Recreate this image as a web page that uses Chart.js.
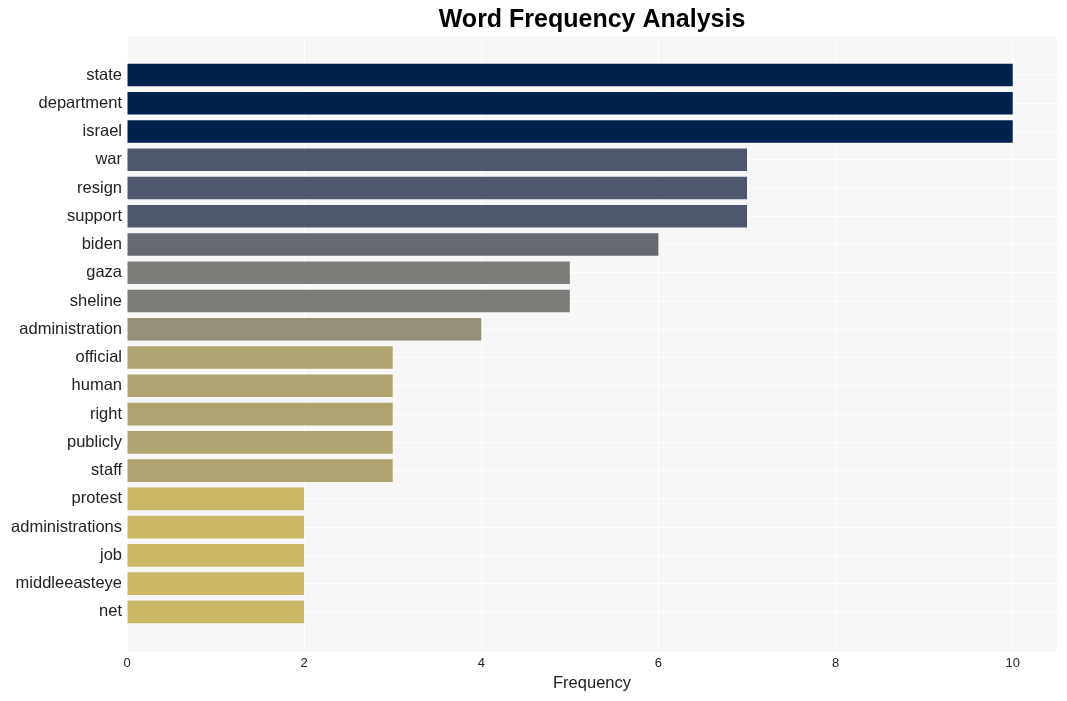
<!DOCTYPE html>
<html>
<head>
<meta charset="utf-8">
<script src="https://cdn.jsdelivr.net/npm/chart.js@4/dist/chart.umd.min.js"></script>
<style>
  html, body { margin: 0; padding: 0; background: #fff; }
  #wrap { width: 1067px; height: 701px; }
</style>
</head>
<body>
<div id="wrap"><canvas id="myChart" width="1067" height="701"></canvas></div>
<script>
// data
const words = ['state', 'department', 'israel', 'war', 'resign', 'support', 'biden', 'gaza', 'sheline',
  'administration', 'official', 'human', 'right', 'publicly', 'staff', 'protest', 'administrations',
  'job', 'middleeasteye', 'net'];
const counts = [10, 10, 10, 7, 7, 7, 6, 5, 5, 4, 3, 3, 3, 3, 3, 2, 2, 2, 2, 2];
const xTicks = [0, 2, 4, 6, 8, 10];

// colour per frequency (cividis-like)
const colorFor = {10: '#00224e', 7: '#4f576c', 6: '#676970', 5: '#7d7c78', 4: '#958f78', 3: '#afa370', 2: '#c9b866'};

const font = "'Liberation Sans', Arial, sans-serif";

// plot background + title centred over the plot
const plotBg = {
  id: 'plotBg',
  beforeDraw(chart) {
    const {ctx, chartArea: a} = chart;
    ctx.save();
    ctx.fillStyle = '#f7f7f7';
    ctx.fillRect(a.left, a.top, a.right - a.left, a.bottom - a.top);
    ctx.restore();
  },
  afterDraw(chart) {
    const {ctx, chartArea: a} = chart;
    ctx.save();
    ctx.font = "bold 25px " + font;
    ctx.fillStyle = '#000';
    ctx.textAlign = 'center';
    ctx.textBaseline = 'middle';
    ctx.fillText('Word Frequency Analysis', (a.left + a.right) / 2, 20);
    ctx.restore();
  }
};

const ctx = document.getElementById('myChart').getContext('2d');
new Chart(ctx, {
  type: 'bar',
  data: {
    datasets: [{
      data: counts.map((c, i) => ({x: c, y: i})),
      backgroundColor: counts.map(c => colorFor[c]),
      borderWidth: 0,
      categoryPercentage: 0.8,
      barPercentage: 1
    }]
  },
  options: {
    indexAxis: 'y',
    responsive: false,
    animation: false,
    layout: {padding: {left: 0, right: 10, top: 36, bottom: 0}},
    plugins: {legend: {display: false}, tooltip: {enabled: false}},
    scales: {
      x: {
        type: 'linear',
        bounds: 'data',
        min: 0,
        max: 10.5,
        afterBuildTicks: s => { s.ticks = xTicks.map(v => ({value: v})); },
        afterFit: s => { s.height = 49; },
        grid: {color: '#ffffff', lineWidth: 1, drawTicks: false},
        border: {display: false},
        ticks: {font: {family: font, size: 13}, color: '#222', padding: 4},
        title: {display: true, text: 'Frequency', font: {family: font, size: 16.5}, color: '#222', padding: {top: 1, bottom: 8}}
      },
      y: {
        type: 'linear',
        bounds: 'data',
        offset: false,
        reverse: true,
        min: -1.38,
        max: 20.42,
        afterBuildTicks: s => { s.ticks = words.map((w, i) => ({value: i})); },
        afterFit: s => { s.width = 127; },
        grid: {color: '#ffffff', lineWidth: 1, drawTicks: false, offset: false},
        border: {display: false},
        ticks: {
          font: {family: font, size: 16.5},
          color: '#222',
          padding: 5,
          autoSkip: false,
          callback: v => words[v]
        }
      }
    }
  },
  plugins: [plotBg]
});
</script>
</body>
</html>
